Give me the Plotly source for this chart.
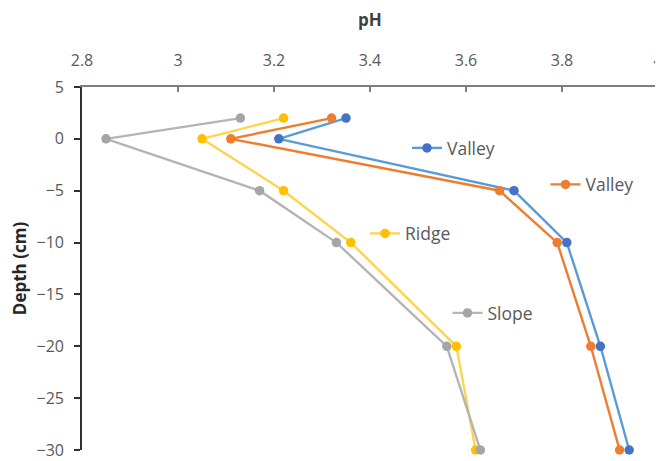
import plotly.graph_objects as go

depth = [2, 0, -5, -10, -20, -30]
valley_blue = [3.35, 3.21, 3.70, 3.81, 3.88, 3.94]
valley_orange = [3.32, 3.11, 3.67, 3.79, 3.86, 3.92]
ridge = [3.22, 3.05, 3.22, 3.36, 3.58, 3.62]
slope = [3.13, 2.85, 3.17, 3.33, 3.56, 3.63]

x_ticks = [2.8, 3.0, 3.2, 3.4, 3.6, 3.8, 4.0]
x_labels = ["2.8", "3", "3.2", "3.4", "3.6", "3.8", "4"]
y_ticks = [5, 0, -5, -10, -15, -20, -25, -30]

FONT = "Open Sans"
TXT = "#595959"
TITLE = "#404040"

series = [
    ("Valley", valley_blue, "#5b9bd5", "#4472c4", "legend"),
    ("Valley", valley_orange, "#ed7d31", "#ed7d31", "legend2"),
    ("Ridge", ridge, "#ffd34d", "#ffc000", "legend3"),
    ("Slope", slope, "#b4b4b4", "#a5a5a5", "legend4"),
]

fig = go.Figure()
for name, vals, lc, mc, lg in series:
    fig.add_trace(go.Scatter(
        x=vals, y=depth, name=name, mode="lines+markers",
        line=dict(color=lc, width=2.4),
        marker=dict(color=mc, size=9.5),
        cliponaxis=False, legend=lg, showlegend=True,
    ))

# The page body has an 8px default margin, so the figure is offset by 8px.
OFF = 8
W, H = 663 - OFF, 461 - OFF
# plot area wanted in window pixels: x 82..658, y 87..450
L, R, T, B = 82 - OFF, 663 - 658, 87 - OFF, 461 - 450
pw, ph = W - L - R, H - T - B


def px(xw):
    return (xw - OFF - L) / pw


def py(yw):
    return (H - B - (yw - OFF)) / ph


leg_common = dict(xanchor="left", yanchor="middle", bgcolor="rgba(0,0,0,0)",
                  font=dict(family=FONT, size=17.5, color=TXT))

fig.update_layout(
    width=W, height=H,
    margin=dict(l=L, r=R, t=T, b=B, autoexpand=False),
    paper_bgcolor="white", plot_bgcolor="white",
    showlegend=True,
    font=dict(family=FONT, size=16, color=TXT),
    legend=dict(x=px(407), y=py(148), **leg_common),
    legend2=dict(x=px(545.5), y=py(184.5), **leg_common),
    legend3=dict(x=px(365), y=py(233.5), **leg_common),
    legend4=dict(x=px(447.5), y=py(313), **leg_common),
    xaxis=dict(
        side="top", range=[2.8, 4.0], tickvals=x_ticks, ticktext=x_labels,
        ticks="inside", ticklen=5, tickcolor="#7f7f7f", tickwidth=1.5,
        showline=True, linecolor="#7f7f7f", linewidth=2.2,
        showgrid=False, zeroline=False, ticklabelstandoff=13, automargin=False,
        tickfont=dict(family=FONT, size=16, color=TXT),
        title=dict(text="<b>pH</b>", font=dict(family=FONT, size=17, color=TITLE), standoff=20),
    ),
    yaxis=dict(
        range=[-30, 5], tickvals=y_ticks,
        ticks="outside", ticklen=6, tickcolor="#303030", tickwidth=1.5,
        showline=True, linecolor="#303030", linewidth=1.6,
        showgrid=False, zeroline=False, ticklabelstandoff=7, automargin=False,
        tickfont=dict(family=FONT, size=16, color=TXT),
        title=dict(text="<b>Depth (cm)</b>", font=dict(family=FONT, size=17, color="#262626"), standoff=10),
    ),
)

fig.write_html("out.html")
